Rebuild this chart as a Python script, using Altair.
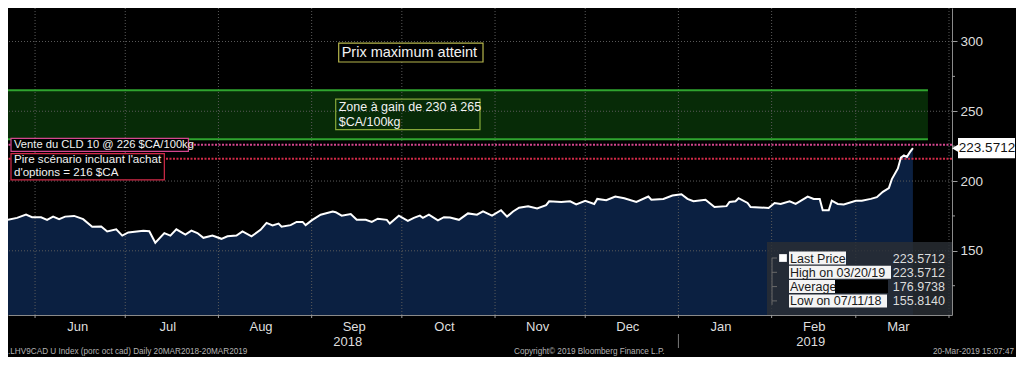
import altair as alt
import pandas as pd

# ---------------- data ----------------
dates = [
    "2018-05-23", "2018-05-26", "2018-05-29", "2018-05-31", "2018-06-03", "2018-06-05",
    "2018-06-07", "2018-06-09", "2018-06-11", "2018-06-14", "2018-06-17", "2018-06-20",
    "2018-06-23", "2018-06-25", "2018-06-28", "2018-06-30", "2018-07-02", "2018-07-07",
    "2018-07-09", "2018-07-11", "2018-07-14", "2018-07-16", "2018-07-18", "2018-07-21",
    "2018-07-23", "2018-07-25", "2018-07-27", "2018-07-30", "2018-08-02", "2018-08-04",
    "2018-08-07", "2018-08-09", "2018-08-12", "2018-08-15", "2018-08-17", "2018-08-19",
    "2018-08-21", "2018-08-22", "2018-08-25", "2018-08-27", "2018-08-29", "2018-08-30",
    "2018-09-01", "2018-09-04", "2018-09-08", "2018-09-09", "2018-09-11", "2018-09-14",
    "2018-09-16", "2018-09-19", "2018-09-21", "2018-09-23", "2018-09-26", "2018-09-27",
    "2018-09-30", "2018-10-03", "2018-10-05", "2018-10-07", "2018-10-08", "2018-10-10",
    "2018-10-13", "2018-10-15", "2018-10-17", "2018-10-20", "2018-10-23", "2018-10-26",
    "2018-10-28", "2018-10-31", "2018-11-03", "2018-11-05", "2018-11-07", "2018-11-09",
    "2018-11-12", "2018-11-15", "2018-11-18", "2018-11-19", "2018-11-23", "2018-11-26",
    "2018-11-28", "2018-12-01", "2018-12-04", "2018-12-05", "2018-12-08", "2018-12-11",
    "2018-12-14", "2018-12-18", "2018-12-22", "2018-12-23", "2018-12-27", "2018-12-30",
    "2019-01-02", "2019-01-04", "2019-01-06", "2019-01-10", "2019-01-13", "2019-01-17",
    "2019-01-18", "2019-01-20", "2019-01-21", "2019-01-24", "2019-01-25", "2019-01-31",
    "2019-02-02", "2019-02-04", "2019-02-07", "2019-02-09", "2019-02-13", "2019-02-15",
    "2019-02-17", "2019-02-18", "2019-02-20", "2019-02-21", "2019-02-23", "2019-02-25",
    "2019-03-01", "2019-03-03", "2019-03-06", "2019-03-08", "2019-03-10", "2019-03-12",
    "2019-03-13", "2019-03-15", "2019-03-16", "2019-03-17", "2019-03-18", "2019-03-19",
    "2019-03-20",
]
prices = [
    172.2, 173.6, 175.9, 174.1, 174.0, 172.2,
    174.5, 172.7, 174.5, 175.0, 172.7, 167.3,
    167.5, 163.9, 165.4, 160.9, 163.2, 164.3,
    164.0, 155.814, 162.7, 160.9, 165.4, 161.6,
    164.5, 162.7, 159.3, 160.9, 158.6, 160.4,
    160.9, 163.9, 160.4, 165.0, 170.0, 168.2,
    169.5, 167.3, 168.4, 170.7, 170.7, 168.4,
    171.8, 175.9, 178.2, 177.7, 175.2, 176.4,
    172.2, 172.2, 170.7, 173.0, 172.2, 169.5,
    175.2, 171.4, 173.6, 175.2, 173.6, 175.9,
    171.8, 174.1, 173.8, 172.2, 176.8, 175.9,
    178.2, 175.2, 179.1, 174.5, 178.2, 180.9,
    182.0, 180.4, 182.7, 185.5, 185.0, 185.5,
    183.2, 185.9, 183.6, 187.2, 186.3, 188.9,
    187.7, 185.0, 188.9, 186.6, 187.2, 189.6,
    190.5, 187.2, 185.5, 186.6, 181.4, 182.0,
    185.0, 185.5, 187.7, 184.3, 181.4, 180.7,
    184.3, 183.6, 185.5, 183.6, 188.9, 187.2,
    187.2, 179.1, 179.1, 185.9, 183.6, 183.2,
    185.9, 185.9, 187.2, 188.4, 192.3, 195.0,
    201.4, 209.0, 216.8, 218.4, 217.3, 220.7,
    223.5712,
]

month_starts = ["2018-06-01", "2018-07-01", "2018-08-01", "2018-09-01", "2018-10-01",
                "2018-11-01", "2018-12-01", "2019-01-01", "2019-02-01", "2019-03-01",
                "2019-04-01"]
month_mids = ["2018-06-15", "2018-07-15", "2018-08-15", "2018-09-15", "2018-10-15",
              "2018-11-15", "2018-12-15", "2019-01-15", "2019-02-15", "2019-03-15"]
year_labels = ["2018", "2019"]
year_label_dates = ["2018-09-13", "2019-02-14"]
year_break = ["2019-01-01"]
major_ticks = [150, 200, 250, 300]
minor_ticks = [125, 175, 225, 275]

zone_low, zone_high = 230, 265
zone_start, zone_end = "2018-05-01", "2019-03-25"
sell_level = 226
worst_level = 216

legend_labels = ["Last Price", "High on 03/20/19", "Average", "Low on 07/11/18"]
legend_values = [223.5712, 223.5712, 176.9738, 155.8140]
last_price = 223.5712

# ---------------- layout ----------------
W, H = 944, 307
FONT = "Liberation Sans"


def dt(s):
    y, m, d = (int(p) for p in s.split("-"))
    return alt.DateTime(year=y, month=m, date=d, utc=True)


xs = alt.Scale(type="utc", domain=[dt("2018-05-23"), dt("2019-04-02")])
ys = alt.Scale(domain=[104, 324], zero=False, nice=False)

df = pd.DataFrame({"date": dates, "price": prices})
one = pd.DataFrame({"k": [0]})

x_axis = alt.Axis(values=[dt(m) for m in month_mids],
                  labelExpr="utcFormat(datum.value, '%b')",
                  ticks=False, tickSize=0, grid=False, domain=True,
                  domainColor="#8a8a8a", labelColor="#dedede", labelFontSize=13,
                  labelFont=FONT, labelPadding=5, title=None, orient="bottom")
y_axis = alt.Axis(values=major_ticks, orient="right", grid=False, domainColor="#8a8a8a",
                  tickColor="#9a9a9a", tickSize=5, labelColor="#dedede",
                  labelFontSize=13.5, labelFont=FONT, labelPadding=3, title=None)


def X(field):
    return alt.X(field, scale=xs, axis=x_axis)


def Y(field):
    return alt.Y(field, scale=ys, axis=y_axis)


layers = []

# green gain zone
zone_df = pd.DataFrame({"s": [zone_start], "e": [zone_end], "lo": [zone_low], "hi": [zone_high]})
layers.append(alt.Chart(zone_df).mark_rect(color="#072b07", clip=True).encode(
    x=X("s:T"), x2="e:T", y=Y("lo:Q"), y2="hi:Q"))

# price area
layers.append(alt.Chart(df).mark_area(color="#0b2041", clip=True).encode(
    x=X("date:T"), y=Y("price:Q")))

# grids
layers.append(alt.Chart(pd.DataFrame({"d": month_starts})).mark_rule(
    color="#5a5a5a", strokeDash=[1, 2], strokeWidth=1, clip=True).encode(x=X("d:T")))
layers.append(alt.Chart(pd.DataFrame({"v": major_ticks})).mark_rule(
    color="#5a5a5a", strokeDash=[1, 2], strokeWidth=1).encode(y=Y("v:Q")))

# legend panel
layers.append(alt.Chart(one).mark_rect(fill="#2a2e34", opacity=0.82).encode(
    x=alt.value(759), x2=alt.value(W), y=alt.value(234), y2=alt.value(H)))

# zone borders
zb_df = pd.DataFrame({"s": [zone_start, zone_start], "e": [zone_end, zone_end],
                      "v": [zone_low, zone_high]})
layers.append(alt.Chart(zb_df).mark_rule(color="#2fa52f", strokeWidth=2, clip=True).encode(
    x=X("s:T"), x2="e:T", y=Y("v:Q")))

# dotted level lines
for lvl, col in [(sell_level, "#d4468e"), (worst_level, "#d22a48")]:
    layers.append(alt.Chart(pd.DataFrame({"v": [lvl]})).mark_rule(
        color=col, strokeDash=[2, 1.5], strokeWidth=2).encode(y=Y("v:Q")))

# price line
layers.append(alt.Chart(df).mark_line(color="white", strokeWidth=2, clip=True).encode(
    x=X("date:T"), y=Y("price:Q")))

# annotation boxes (date/value corners)
boxes = [
    ("2018-09-10", "2018-10-28", 285.3, 298.9, "#000000", "#b6b64c"),
    ("2018-09-09", "2018-10-27", 236.8, 258.7, "transparent", "#86a83a"),
    ("2018-05-24", "2018-07-22", 221.3, 230.6, "#000000", "#d4468e"),
    ("2018-05-24", "2018-07-14", 200.9, 219.6, "#000000", "#d22a48"),
]
for x1, x2, y1, y2, fill, stroke in boxes:
    layers.append(alt.Chart(pd.DataFrame({"a": [x1], "b": [x2], "c": [y1], "d": [y2]})).mark_rect(
        fill=fill, stroke=stroke, strokeWidth=1.2).encode(
        x=X("a:T"), x2="b:T", y=Y("c:Q"), y2="d:Q"))

notes = [
    ("Prix maximum atteint", "2018-09-10", 292.1, 14.5),
    ("Zone à gain de 230 à 265", "2018-09-09", 253.2, 12.5),
    ("$CA/100kg", "2018-09-09", 242.3, 12.5),
    ("Vente du CLD 10 @ 226 $CA/100kg", "2018-05-24", 225.9, 11.2),
    ("Pire scénario incluant l'achat", "2018-05-24", 215.0, 11.6),
    ("d'options = 216 $CA", "2018-05-24", 205.6, 11.6),
]
for txt, xd, yv, fs in notes:
    layers.append(alt.Chart(pd.DataFrame({"t": [txt], "x": [xd], "y": [yv]})).mark_text(
        align="left", baseline="middle", dx=3, font=FONT, fontSize=fs, color="#f2f2f2").encode(
        x=X("x:T"), y=Y("y:Q"), text="t:N"))

# legend rows
label_box_w = [57, 102, 46, 98]
row_y0, row_step = 250, 14.3
layers.append(alt.Chart(one).mark_rule(color="#6a6a6a", strokeWidth=1).encode(
    x=alt.value(764), y=alt.value(row_y0), y2=alt.value(row_y0 + 3 * row_step + 4)))
for i, (lab, val) in enumerate(zip(legend_labels, legend_values)):
    yc = row_y0 + i * row_step
    layers.append(alt.Chart(one).mark_rect(fill="#f4f4f4").encode(
        x=alt.value(781), x2=alt.value(781 + label_box_w[i]),
        y=alt.value(yc - 6.5), y2=alt.value(yc + 6.5)))
    layers.append(alt.Chart(pd.DataFrame({"t": [lab]})).mark_text(
        align="left", baseline="middle", font=FONT, fontSize=12.5, color="#1a1a1a").encode(
        x=alt.value(782), y=alt.value(yc + 0.5), text="t:N"))
    layers.append(alt.Chart(pd.DataFrame({"t": [f"{val:.4f}"]})).mark_text(
        align="right", baseline="middle", font=FONT, fontSize=12.5, color="#dcdcdc").encode(
        x=alt.value(937), y=alt.value(yc + 0.5), text="t:N"))
    layers.append(alt.Chart(one).mark_rule(color="#6a6a6a", strokeWidth=1).encode(
        x=alt.value(764), x2=alt.value(769), y=alt.value(yc), y2=alt.value(yc)))
# black highlight after "Average"
layers.append(alt.Chart(one).mark_rect(fill="#000000").encode(
    x=alt.value(827), x2=alt.value(880),
    y=alt.value(row_y0 + 2 * row_step - 6.5), y2=alt.value(row_y0 + 2 * row_step + 6.5)))
# white square marker for Last Price
layers.append(alt.Chart(one).mark_square(color="white", size=60, opacity=1).encode(
    x=alt.value(775), y=alt.value(row_y0)))

# minor ticks on right axis
layers.append(alt.Chart(pd.DataFrame({"v": minor_ticks})).mark_rule(
    color="#9a9a9a", strokeWidth=1).encode(
    x=alt.value(W), x2=alt.value(W + 3), y=Y("v:Q")))

# bottom month ticks
layers.append(alt.Chart(pd.DataFrame({"d": month_starts})).mark_rule(
    color="#9a9a9a", strokeWidth=1).encode(
    x=X("d:T"), y=alt.value(H), y2=alt.value(H + 3)))

# year labels and separator
layers.append(alt.Chart(pd.DataFrame({"t": year_labels, "d": year_label_dates})).mark_text(
    align="center", baseline="middle", font=FONT, fontSize=13, color="#dedede").encode(
    x=X("d:T"), y=alt.value(H + 27), text="t:N"))
layers.append(alt.Chart(pd.DataFrame({"d": year_break})).mark_rule(
    color="#7a7a7a", strokeWidth=1).encode(
    x=X("d:T"), y=alt.value(H + 19), y2=alt.value(H + 33)))

# last price tag
tag_df = pd.DataFrame({"v": [last_price], "t": [f"{last_price:.4f}"]})
layers.append(alt.Chart(tag_df).mark_rect(fill="white").transform_calculate(
    lo="datum.v - 7.3", hi="datum.v + 7.3").encode(
    x=alt.value(W + 6), x2=alt.value(W + 63), y=Y("lo:Q"), y2="hi:Q"))
layers.append(alt.Chart(tag_df).mark_point(shape="triangle-left", filled=True, color="white",
                                           opacity=1, size=90).encode(
    x=alt.value(W + 4), y=Y("v:Q")))
layers.append(alt.Chart(tag_df).mark_text(
    align="center", baseline="middle", font=FONT, fontSize=13.5, color="#111111").encode(
    x=alt.value(W + 35), y=Y("v:Q"), text="t:N"))

# footer
footer = [
    (".LHV9CAD U Index (porc oct cad)  Daily 20MAR2018-20MAR2019", 0, "left"),
    ("Copyright\u00a9 2019 Bloomberg Finance L.P.", 506, "left"),
    ("20-Mar-2019 15:07:47", 1006, "right"),
]
for txt, xp, al in footer:
    layers.append(alt.Chart(pd.DataFrame({"t": [txt]})).mark_text(
        align=al, baseline="middle", font=FONT, fontSize=8.2, color="#b4b4b4").encode(
        x=alt.value(xp), y=alt.value(H + 37), text="t:N"))

chart = alt.layer(*layers).properties(
    width=W, height=H,
    padding={"left": 0, "top": 0, "right": 64, "bottom": 42},
    autosize=alt.AutoSizeParams(type="none"),
    background="#000000",
).configure_view(strokeWidth=0)

chart.save("out.html", embed_options={"renderer": "svg", "actions": False})
